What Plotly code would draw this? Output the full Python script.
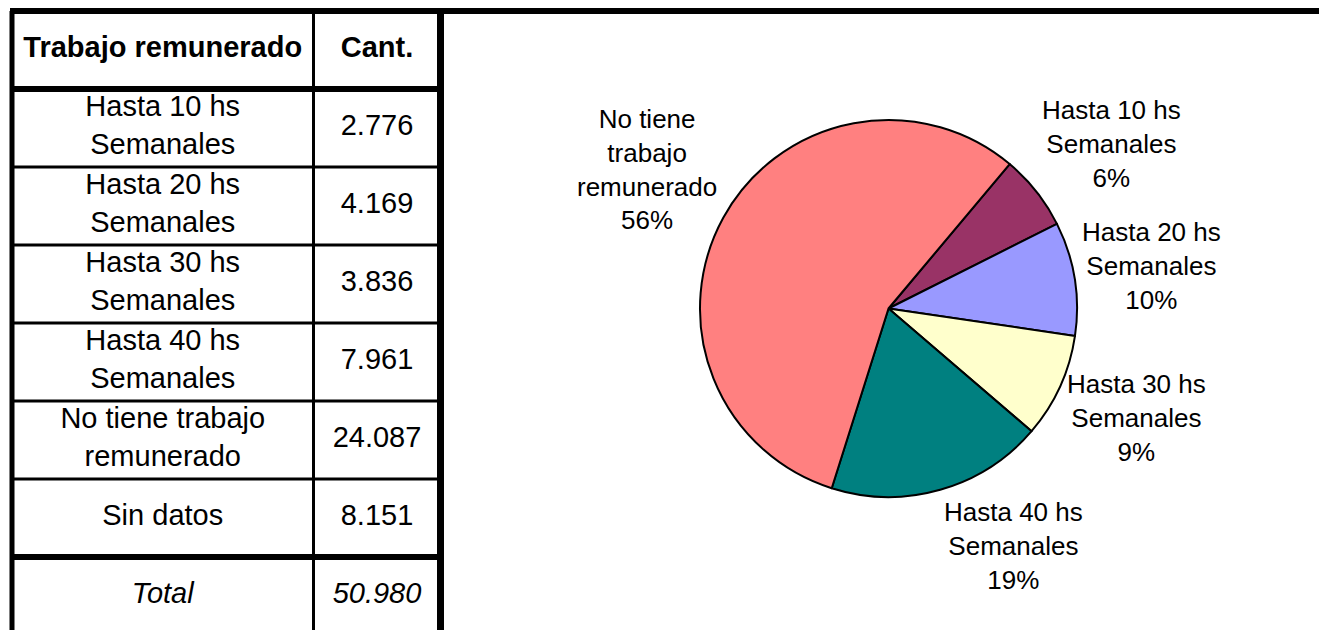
import math
import plotly.graph_objects as go

# data
table_labels = ['Hasta 10 hs<br>Semanales', 'Hasta 20 hs<br>Semanales',
                'Hasta 30 hs<br>Semanales', 'Hasta 40 hs<br>Semanales',
                'No tiene trabajo<br>remunerado', 'Sin datos']
table_values = [2776, 4169, 3836, 7961, 24087, 8151]

pie_labels = ['Hasta 10 hs<br>Semanales', 'Hasta 20 hs<br>Semanales',
              'Hasta 30 hs<br>Semanales', 'Hasta 40 hs<br>Semanales',
              'No tiene<br>trabajo<br>remunerado']
pie_values = [2776, 4169, 3836, 7961, 24087]
pie_colors = ['#993366', '#9999FF', '#FFFFCC', '#008080', '#FF8080']

W, H = 1327, 630
OFF = 8  # page body margin, everything below is in figure pixels
FONT = 'Arial, Liberation Sans, sans-serif'


def fmt(v):
    # spanish thousands separator
    return '{:,}'.format(v).replace(',', '.')


total = sum(table_values)

# table: column 0 = labels, column 1 = quantities, row index on y
col_edges = [12 - OFF, 313.5 - OFF, 440.5 - OFF]
col_mid = [(col_edges[0] + col_edges[1]) / 2, (col_edges[1] + col_edges[2]) / 2]
row_h = 78
top = 11 - OFF

rows_txt = ['<b>Trabajo remunerado</b>'] + table_labels + ['<i>Total</i>']
vals_txt = ['<b>Cant.</b>'] + [fmt(v) for v in table_values] + ['<i>' + fmt(total) + '</i>']
n_rows = len(rows_txt)

fig = go.Figure()

fig.add_trace(go.Scatter(x=[col_mid[0]] * n_rows, y=list(range(n_rows)), mode='text',
                         text=rows_txt, textposition='middle center',
                         textfont=dict(family=FONT, size=29, color='black'),
                         hoverinfo='skip', showlegend=False))
fig.add_trace(go.Scatter(x=[col_mid[1]] * n_rows, y=list(range(n_rows)), mode='text',
                         text=vals_txt, textposition='middle center',
                         textfont=dict(family=FONT, size=29, color='black'),
                         hoverinfo='skip', showlegend=False))

# pie geometry (figure pixels)
cx, cy, r = 888.5 - OFF, 308.5 - OFF, 188.5
rotation = 40

fig.add_trace(go.Pie(labels=pie_labels, values=pie_values, sort=False,
                     direction='clockwise', rotation=rotation,
                     marker=dict(colors=pie_colors, line=dict(color='black', width=2)),
                     textinfo='none',
                     domain=dict(x=[(cx - r) / W, (cx + r) / W],
                                 y=[1 - (cy + r) / H, 1 - (cy - r) / H]),
                     hoverinfo='skip', showlegend=False))

# excel style data labels: box corner touching the slice's mid angle ray
pie_total = sum(pie_values)
lab_size = 26
line_h = 34
annotations = []
cum = 0
for lab, v in zip(pie_labels, pie_values):
    mid = math.radians(rotation + 360 * (cum + v / 2) / pie_total)
    cum += v
    s, c = math.sin(mid), math.cos(mid)
    px, py = cx + (r + 5) * s, cy - (r + 5) * c
    txt = lab + '<br>' + '{:.0f}%'.format(100 * v / pie_total)
    h = (txt.count('<br>') + 1) * line_h
    f = min(1, 1.4 * abs(c))
    annotations.append(dict(x=px, y=py, xref='x', yref='y2', text=txt, showarrow=False,
                            xanchor='left' if s > 0 else 'right', yanchor='middle',
                            yshift=f * h / 2 * (1 if c > 0 else -1), align='center',
                            font=dict(family=FONT, size=lab_size, color='black')))

shapes = []
# horizontal lines between rows
for k in range(n_rows - 1):
    thick = k in (0, n_rows - 2)
    shapes.append(dict(type='line', xref='x', yref='y', x0=col_edges[0], x1=col_edges[2],
                       y0=k + 0.5, y1=k + 0.5,
                       line=dict(color='black', width=6 if thick else 3)))
# vertical lines of the table
shapes.append(dict(type='line', xref='x', yref='y', x0=col_edges[0], x1=col_edges[0],
                   y0=-0.5, y1=n_rows, line=dict(color='black', width=5)))
shapes.append(dict(type='line', xref='x', yref='y', x0=col_edges[1], x1=col_edges[1],
                   y0=-0.5, y1=n_rows, line=dict(color='black', width=3)))
shapes.append(dict(type='line', xref='x', yref='y', x0=col_edges[2], x1=col_edges[2],
                   y0=-0.5, y1=n_rows, line=dict(color='black', width=7)))
# frame line along the top
shapes.append(dict(type='line', xref='x', yref='y', x0=col_edges[0] - 2, x1=W,
                   y0=-0.5, y1=-0.5, line=dict(color='black', width=6)))

fig.update_layout(
    width=W, height=H,
    margin=dict(l=0, r=0, t=0, b=0),
    paper_bgcolor='white', plot_bgcolor='white',
    xaxis=dict(range=[0, W], domain=[0, 1], visible=False, fixedrange=True),
    yaxis=dict(range=[(H - top) / row_h - 0.5, -0.5 - top / row_h], domain=[0, 1],
               visible=False, fixedrange=True),
    yaxis2=dict(range=[H, 0], domain=[0, 1], overlaying='y', visible=False,
                fixedrange=True),
    shapes=shapes,
    annotations=annotations,
)

fig.write_html('out.html')
